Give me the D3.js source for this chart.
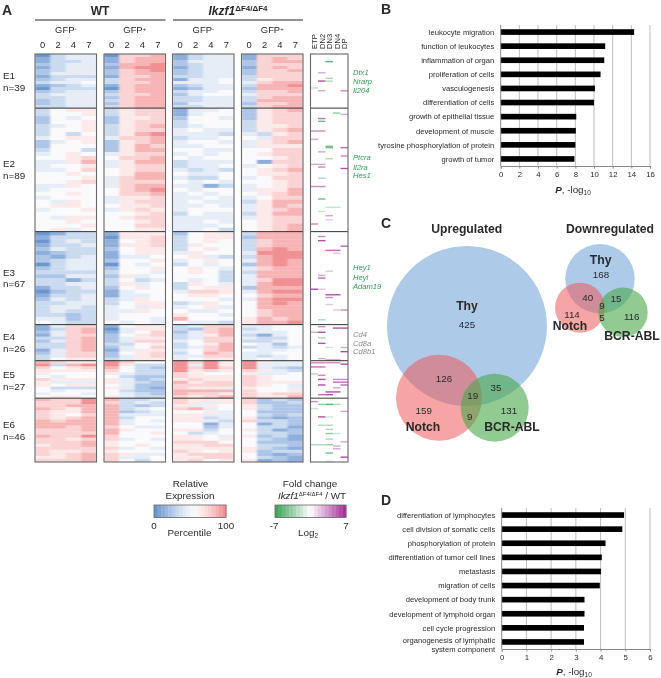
<!DOCTYPE html>
<html><head><meta charset="utf-8">
<script src="https://cdn.jsdelivr.net/npm/d3@7/dist/d3.min.js"></script>
<style>
html,body{margin:0;padding:0;background:#fff}
svg{display:block;filter:blur(0.3px)}
text{font-family:"Liberation Sans",Arial,sans-serif;fill:#2a2a2a}
</style></head><body><div id="c"></div>
<script>
// ---------- Panel A data: percentile digit (0 blue .. 5 white .. 9 red)
// each string: WT GFP-, WT GFP+, KO GFP-, KO GFP+ ; each with days 0 2 4 7
const clusters = ["E1","E2","E3","E4","E5","E6"];
const clusterN = [39,89,67,26,27,46];
const groups = ["GFP-","GFP+","GFP-","GFP+"];
const days = ["0","2","4","7"];
const stages = ["ETP","DN2","DN3","DN4","DP"];
const E1 = ["0344 0778 1344 1777","1344 1788 1344 1787","1334 1788 2444 2788","2344 2889 2344 2777","1344 1899 1344 1787","2344 2789 2344 2778","2444 2788 2344 2777","1333 1778 3344 3777","2344 3788 1445 3677","3445 3778 4445 4788","1234 1788 2344 3889","0333 0788 1244 2888","2344 2788 3445 3778","3444 3778 2455 4777","3344 2788 3344 3788","2344 3788 3344 3888","2344 2788 2444 2778","3344 3788 3344 3788"];
const E2 = ["3566 3677 1445 2678","3556 3677 1455 2677","2545 2667 2554 2677","2556 2677 3555 3677","3456 3678 3455 3667","3556 3677 4544 3678","3535 3689 4443 4367","4566 4778 3445 5477","2456 2678 4554 4678","2555 2687 4455 4666","3553 2688 5544 5577","4565 4677 4545 5677","5567 5778 5455 5567","4468 4688 3444 5177","4556 4677 3445 4567","4457 5677 4343 5678","5565 5688 5445 5667","5556 4788 4335 4577","5567 4777 5454 5567","4465 4788 4413 4567","4555 5789 5455 4668","5565 5778 4545 5678","4555 4667 4454 4577","5465 4677 4544 3688","5665 5667 4454 4687","4556 4676 4555 4678","5555 5567 3544 3688","5466 5677 4444 4677","5565 5567 4454 5677","5556 5577 4445 5678","5645 5566 4453 5678"];
const E3 = ["0133 1666 2566 3888","1333 0667 3566 2888","0343 1567 3565 3788","1334 1667 3655 3788","2433 2566 3565 3898","1233 1566 4655 4999","2134 1445 5643 3899","2344 2556 4565 4898","0344 0545 3545 2898","2344 2556 5654 4788","3333 3554 5653 3888","2244 2645 5553 4888","3313 3534 5453 4799","3344 3645 3654 4899","1334 2565 3566 2888","0233 1455 4776 4899","1334 1445 5665 5788","2434 3465 5554 4899","3344 3566 3465 5898","3443 4546 4564 5888","3433 4465 5445 5788","3323 4555 6554 5788","4423 4554 8555 6878","5433 5454 5443 6889"];
const E4 = ["1477 1566 3477 4455","1378 0466 3278 3455","2478 1457 2478 4445","1477 2567 3468 3145","3378 2466 3477 4335","2478 2477 4577 3345","3378 3356 3568 5425","3378 2457 3478 3434","1478 1466 4578 5445","2477 2567 3587 4455","3477 2467 4477 4345","3566 3466 4566 4545"];
const E5 = ["8766 9755 9796 9644","9389 9633 9496 9444","7567 8532 9797 9432","6666 7533 9676 7643","6555 6433 7655 6445","5455 5322 7666 7655","7666 6423 6766 7655","6444 6432 8677 7666","6566 5422 7777 7654","5333 6421 7664 6554","5455 5322 8888 7556","4554 5432 8776 7677","5665 6433 7678 7668"];
const E6 = ["8779 8334 7666 7232","7779 7343 7646 7223","7788 8323 6465 6322","8768 8345 7845 6322","7668 8234 5564 5222","7657 8444 6644 5323","7678 8355 6634 6212","8788 8454 6643 7332","8888 8455 5514 5132","8878 7544 5524 5331","7778 8655 6635 6312","7777 8556 5345 5332","8779 7555 6654 6231","7767 7454 6656 5321","7778 6555 7775 5222","6778 6565 6677 5332","7777 7454 6666 6321","7667 6555 7656 6233","7678 7644 6777 5212","6678 7445 6677 5321","7778 7535 6756 6121"];
const heat = [E1,E2,E3,E4,E5,E6];
// annotation column: [gene row, stage index, log2 fold change]
const annot = [[5,2,-6],[13,1,3],[17,2,-3],[19,1,6],[19,2,-3],[24,0,-2],[26,1,3],[26,4,4],
[42,3,-4],[43,4,3],[46,1,5],[48,1,-5],[55,0,4],[55,1,4],[61,0,3],[66,2,-5],[67,2,-5],[67,4,5],[70,1,3],[73,4,4],[75,2,-3],[79,0,3],[79,1,3],[81,1,4],[82,4,6],
[89,1,-3],[95,0,4],[95,1,4],[104,1,-5],[110,2,-2],[110,3,-2],[113,1,-2],[116,2,3],[119,2,2],[122,0,4],
[131,1,4],[134,1,6],[138,4,5],[141,2,5],[141,3,5],[143,3,2],[156,2,2],[159,1,3],[161,1,5],[169,0,6],[169,1,2],[173,2,6],[173,3,6],[175,2,4],[180,2,2],[184,4,4],[184,3,2],[191,1,-3],
[196,1,4],[197,3,6],[197,4,6],[200,1,6],[204,1,-3],[208,1,6],[211,2,-2],[214,4,6],[219,1,3],[220,2,4],[220,3,4],
[222,0,4],[222,1,4],[222,2,4],[222,3,4],[223,4,6],[225,0,5],[225,1,5],[230,0,-3],[231,1,4],[234,1,6],[234,3,4],[234,4,4],[236,3,5],[236,4,5],[238,1,6],[238,4,5],[240,3,3],[243,2,6],[243,3,6],[245,1,5],[245,2,6],
[250,0,4],[252,1,-4],[252,2,-6],[252,3,-3],[255,0,-2],[257,4,3],[261,1,6],[261,2,-2],[267,1,-3],[267,2,-3],[270,2,-3],[273,2,-4],[273,3,-2],[277,2,-3],[279,4,3],[281,0,-3],[281,1,-3],[281,2,-4],[282,3,3],[284,3,3],[287,2,-5],[290,4,6],[293,2,-2]];
const annotGrey = [[200,0],[211,4]];
const genesGreen = [["Dtx1","Nrarp","Il204"],["Ptcra","Il2ra","Hes1"],["Hey1","Heyl","Adam19"]];
const genesGrey = ["Cd4","Cd8a","Cd8b1"];
// ---------- Panels B, D
const bLabels = ["leukocyte migration","function of leukocytes","inflammation of organ","proliferation of cells","vasculogenesis","differentiation of cells","growth of epithelial tissue","development of muscle","tyrosine phosphorylation of protein","growth of tumor"];
const bValues = [14.3,11.2,11.1,10.7,10.1,10.0,8.1,8.05,8.0,7.9];
const dLabels = ["differentiation of lymphocytes","cell division of somatic cells","phosphorylation of protein","differentiation of tumor cell lines","metastasis","migration of cells","development of body trunk","development of lymphoid organ","cell cycle progression","organogenesis of lymphatic|system component"];
const dValues = [4.95,4.88,4.2,4.05,4.02,3.97,3.35,3.35,3.33,3.33];
// ---------- Panel C
const vennUpNums = [425,126,35,19,159,131,9];
const vennDownNums = [168,40,15,9,114,116,5];

const W=661,H=678;
const svg=d3.select("#c").append("svg").attr("width",W).attr("height",H);
const defs=svg.append("defs");
defs.append("filter").attr("id","soft").attr("filterUnits","userSpaceOnUse").attr("x",0).attr("y",0).attr("width",W).attr("height",H)
  .append("feGaussianBlur").attr("stdDeviation","1 0.7");
const txt=(s,x,y,size,o={})=>{const t=svg.append("text").attr("x",x).attr("y",y).attr("font-size",size).text(s)
  .attr("text-anchor",o.a||"start");if(o.b)t.attr("font-weight","bold");if(o.i)t.attr("font-style","italic");if(o.f)t.style("fill",o.f);return t;};

const heatColor=d3.scaleLinear().domain([0,1,2,3,4,5,6,7,8,9]).range(["#6c97ce","#8eaedb","#adc5e6","#cbdbef","#e6edf7","#fafafc","#fceaea","#fad4d4","#f6b4b5","#f09093"]);
const foldColor=d3.scaleLinear().domain([-7,0,7]).range(["#3fa65c","#ffffff","#a8329a"]);

// Panel A geometry
const panelX=[35,104,172.5,241.5], panelW=61.5;
const yRow=d3.scaleLinear().domain([0,294]).range([54,462]);
const xCol=d3.scaleBand().domain(d3.range(4)).range([0,panelW]);
const xStage=d3.scaleBand().domain(d3.range(5)).range([310.5,348]);
let start=0;const bounds=[0];
panelX.forEach(x=>defs.append("clipPath").attr("id","cp"+Math.round(x)).append("rect").attr("x",x).attr("y",54).attr("width",panelW).attr("height",408));
const hg=panelX.map(x=>svg.append("g").attr("clip-path",`url(#cp${Math.round(x)})`).append("g").attr("filter","url(#soft)"));
heat.forEach((bands,ci)=>{
  const n=clusterN[ci];
  bands.forEach((s,bi)=>{
    const ds=s.replace(/ /g,"").split("").map(Number);
    ds.forEach((v,k)=>{
      const p=Math.floor(k/4),c=k%4;
      const y0=yRow(start+bi*n/bands.length),y1=yRow(start+(bi+1)*n/bands.length);
      hg[p].append("rect").attr("x",panelX[p]+xCol(c)).attr("width",xCol.bandwidth()+.3)
        .attr("y",y0).attr("height",y1-y0+.3).attr("fill",heatColor(v));
    });
  });
  start+=n;bounds.push(start);
});
annot.forEach(([r,c,v])=>{
  svg.append("rect").attr("x",xStage(c)).attr("width",xStage.bandwidth()).attr("y",yRow(r)).attr("height",1.4).attr("fill",foldColor(v));
});
annotGrey.forEach(([r,c])=>{
  svg.append("rect").attr("x",xStage(c)).attr("width",xStage.bandwidth()).attr("y",yRow(r)).attr("height",1.4).attr("fill","#bbb");
});
[...panelX.map(x=>[x,panelW]),[310.5,37.5]].forEach(([x,w])=>{
  bounds.slice(1,-1).forEach(b=>svg.append("line").attr("x1",x).attr("x2",x+w).attr("y1",yRow(b)).attr("y2",yRow(b)).attr("stroke","#333").attr("stroke-width",1));
  svg.append("rect").attr("x",x).attr("y",54).attr("width",w).attr("height",408).attr("fill","none").attr("stroke","#666").attr("stroke-width",1.1);
});
// headers
txt("A",2,15,14,{b:1});
txt("WT",100,15,12,{b:1,a:"middle"});
const ko=txt("",238,15,12,{b:1,a:"middle"});
ko.append("tspan").attr("font-style","italic").text("Ikzf1");
ko.append("tspan").attr("font-size",8).attr("dy",-4).text("ΔF4/ΔF4");
svg.append("line").attr("x1",35).attr("x2",165.5).attr("y1",20).attr("y2",20).attr("stroke","#222").attr("stroke-width",1);
svg.append("line").attr("x1",173).attr("x2",303).attr("y1",20).attr("y2",20).attr("stroke","#222").attr("stroke-width",1);
groups.forEach((g,p)=>{
  const t=txt("",panelX[p]+panelW/2,33,9.4,{a:"middle"});
  t.append("tspan").text("GFP");t.append("tspan").attr("font-size",6).attr("dy",-2.5).text(g[3]==="-"?"-":"+");
  days.forEach((d,c)=>txt(d,panelX[p]+xCol(c)+xCol.bandwidth()/2,48,9.4,{a:"middle"}));
});
stages.forEach((s,c)=>{
  const x=xStage(c)+xStage.bandwidth()/2+2.8;
  svg.append("text").attr("transform",`translate(${x},49) rotate(-90)`).attr("font-size",7.6).text(s);
});
const cy=[[79,91],[167,179],[276,287],[340,352],[378,390],[428,440]];
clusters.forEach((c,i)=>{txt(c,3,cy[i][0],9.9);txt("n="+clusterN[i],3,cy[i][1],9.9);});
const geneY=[[75,84,93],[160,169.5,178],[270,279.5,288.5]];
genesGreen.forEach((g,i)=>{[0,1,2].forEach(k=>txt(g[k],353,geneY[i][k],7.6,{i:1,f:"#2f9d55"}));});
genesGrey.forEach((g,k)=>txt(g,353,[336.5,345.8,354][k],7.6,{i:1,f:"#8a8a8a"}));
// legends
txt("Relative",190.5,487,9.9,{a:"middle"});txt("Expression",190,499,9.9,{a:"middle"});
const hb=d3.scaleLinear().domain([0,20]).range([154,226]);
d3.range(20).forEach(i=>svg.append("rect").attr("x",hb(i)).attr("y",505).attr("width",hb(1)-hb(0)+.3).attr("height",12.5).attr("fill",heatColor(i/19*9)));
svg.append("rect").attr("x",154).attr("y",505).attr("width",72).attr("height",12.5).attr("fill","none").attr("stroke","#666").attr("stroke-width",.8);
txt("0",154,529,9.8,{a:"middle"});txt("100",226,529,9.8,{a:"middle"});txt("Percentile",189.5,536,9.9,{a:"middle"});
txt("Fold change",310,487,9.9,{a:"middle"});
const fc=txt("",312,499,9.9,{a:"middle"});
fc.append("tspan").attr("font-style","italic").text("Ikzf1");
fc.append("tspan").attr("font-size",6).attr("dy",-3).text("ΔF4/ΔF4");
fc.append("tspan").attr("dy",3).text(" / WT");
const fb=d3.scaleLinear().domain([0,20]).range([275,346]);
d3.range(20).forEach(i=>svg.append("rect").attr("x",fb(i)).attr("y",505).attr("width",fb(1)-fb(0)+.3).attr("height",12.5).attr("fill",foldColor(i/19*14-7)));
svg.append("rect").attr("x",275).attr("y",505).attr("width",71).attr("height",12.5).attr("fill","none").attr("stroke","#666").attr("stroke-width",.8);
txt("-7",274,529,9.8,{a:"middle"});txt("7",346,529,9.8,{a:"middle"});
const lg=txt("",308,536,9.9,{a:"middle"});lg.append("tspan").text("Log");lg.append("tspan").attr("font-size",6.5).attr("dy",2).text("2");

// Bars
function barPanel(labels,values,max,x0,x1,y0,y1,tickEvery,titleX,titleY){
  const x=d3.scaleLinear().domain([0,max]).range([x0,x1]);
  const y=d3.scaleBand().domain(labels).range([y0,y1]).paddingInner(.6).paddingOuter(.3);
  const ticks=d3.range(0,max+.01,tickEvery);
  ticks.forEach(t=>{if(t>0)svg.append("line").attr("x1",x(t)).attr("x2",x(t)).attr("y1",y0).attr("y2",y1).attr("stroke","#bdbdbd").attr("stroke-width",1);});
  labels.forEach((l,i)=>{
    svg.append("rect").attr("x",x(0)).attr("y",y(l)).attr("width",x(values[i])-x(0)).attr("height",y.bandwidth()).attr("fill","#000");
    const c=y(l)+y.bandwidth()/2,parts=l.split("|");
    parts.forEach((p,k)=>txt(p,x0-6.5,c+2.8+(parts.length>1?(k-.5)*9+2.5:0),7.6,{a:"end"}));
  });
  const g=svg.append("g").attr("transform",`translate(0,${y1})`).call(d3.axisBottom(x).tickValues(ticks).tickSize(2.5).tickPadding(3).tickFormat(d3.format("d")));
  g.selectAll("path,line").attr("stroke","#888");g.selectAll("text").attr("font-size",7.8).attr("font-family",null);
  svg.append("line").attr("x1",x0).attr("x2",x0).attr("y1",y0).attr("y2",y1).attr("stroke","#888");
  const t=txt("",titleX,titleY,9.8,{a:"middle"});
  t.append("tspan").attr("font-weight","bold").attr("font-style","italic").text("P");
  t.append("tspan").text(", -log");t.append("tspan").attr("font-size",6.5).attr("dy",2).text("10");
}
txt("B",381,14,14,{b:1});
barPanel(bLabels,bValues,16,500.7,650,25,166,2,573,193);
txt("D",381,505,14,{b:1});
barPanel(dLabels,dValues,6,501.7,650,508,649,1,574,675);

// Venn
txt("C",381,228,14,{b:1});
txt("Upregulated",466.7,233,12.2,{b:1,a:"middle"});
txt("Downregulated",610,233,12.2,{b:1,a:"middle"});
const col={T:["#adcae8",1],N:["#ef5a5a",.55],B:["#4aa84a",.6]};
[[467,326,80,"T"],[439,397.7,43,"N"],[494.7,407.7,34,"B"],[600,278.7,34.7,"T"],[580,307.7,25,"N"],[623,312.3,24.7,"B"]].forEach(([x,y,r,k])=>
  svg.append("circle").attr("cx",x).attr("cy",y).attr("r",r).attr("fill",col[k][0]).attr("fill-opacity",col[k][1]));
const upPos=[[467,327.5],[444,382],[496,390.5],[472.7,399],[423.7,414],[509,414],[469.7,419.5]];
vennUpNums.forEach((v,i)=>txt(v,upPos[i][0],upPos[i][1],9.8,{a:"middle"}));
const dnPos=[[601,277.5],[587.7,300.5],[616,301.5],[602,309],[572,317.5],[631.7,319.5],[602,320.5]];
vennDownNums.forEach((v,i)=>txt(v,dnPos[i][0],dnPos[i][1],9.8,{a:"middle"}));
[["Thy",467,310],["Notch",423,431],["BCR-ABL",512,431],["Thy",600.7,264],["Notch",570,330],["BCR-ABL",632,340]].forEach(([s,x,y])=>txt(s,x,y,12.2,{b:1,a:"middle"}));
</script></body></html>
